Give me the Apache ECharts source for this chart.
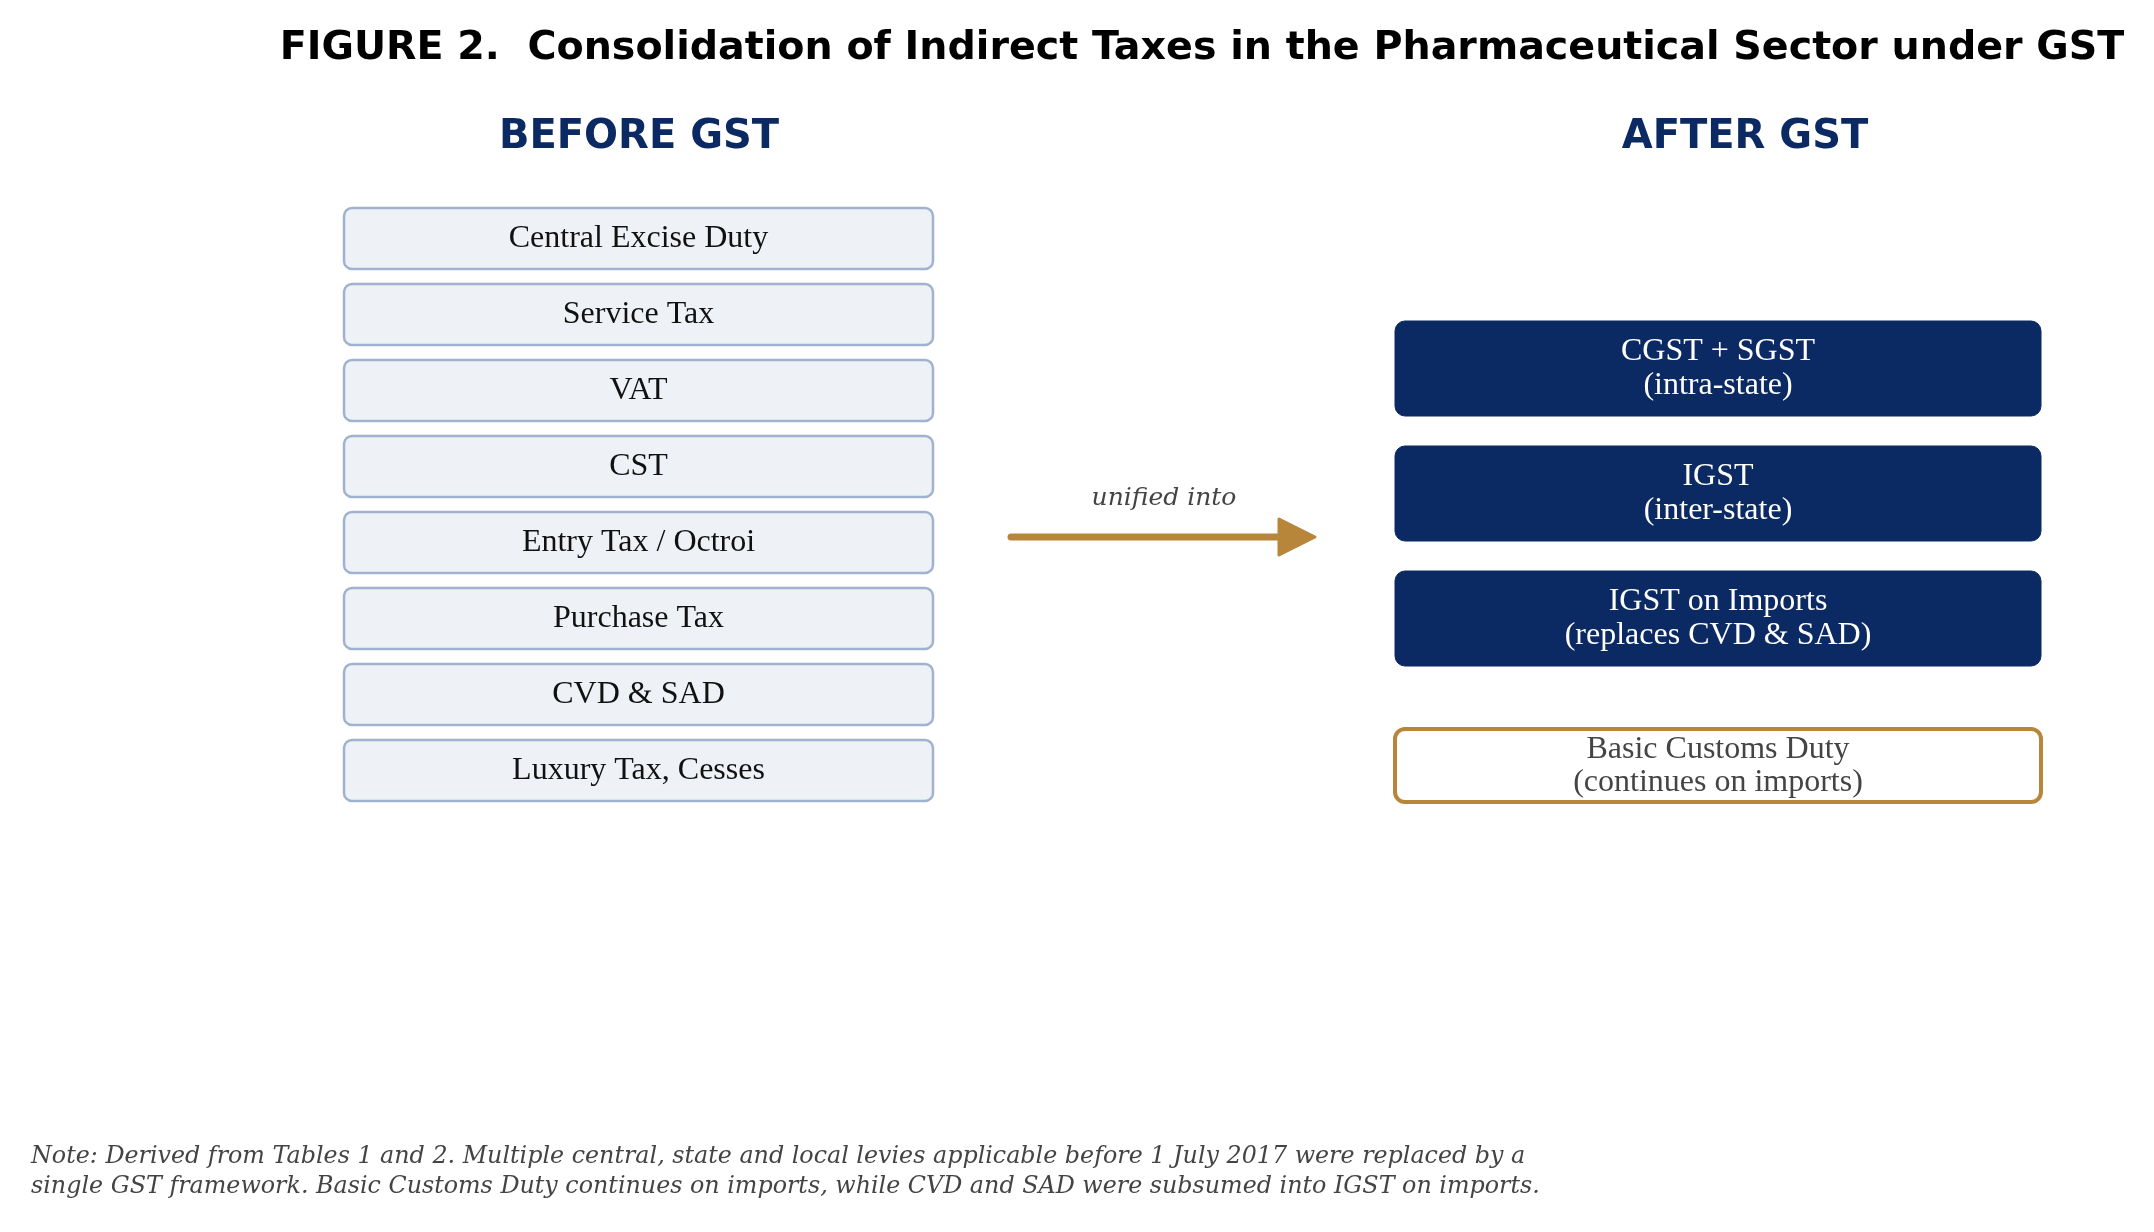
<!DOCTYPE html>
<html>
<head>
<meta charset="utf-8">
<title>Figure 2 - Consolidation of Indirect Taxes under GST</title>
<script src="https://cdn.jsdelivr.net/npm/echarts@6/dist/echarts.min.js"></script>
<style>
    html, body { margin: 0; padding: 0; background: #fff; }
    #chart { width: 2154px; height: 1232px; }
</style>
</head>
<body>
<div id="chart"></div>
<script>
// ---- 数据 ----
var titleText = 'FIGURE 2.  Consolidation of Indirect Taxes in the Pharmaceutical Sector under GST';
var columnHeads = ['BEFORE GST', 'AFTER GST'];
var taxesBefore = [
    'Central Excise Duty',
    'Service Tax',
    'VAT',
    'CST',
    'Entry Tax / Octroi',
    'Purchase Tax',
    'CVD & SAD',
    'Luxury Tax, Cesses'
];
var taxesAfter = [
    'CGST + SGST\n(intra-state)',
    'IGST\n(inter-state)',
    'IGST on Imports\n(replaces CVD & SAD)'
];
var retained = ['Basic Customs Duty\n(continues on imports)'];
var arrowLabel = 'unified into';
var noteLines = [
    'Note: Derived from Tables 1 and 2. Multiple central, state and local levies applicable before 1 July 2017 were replaced by a',
    'single GST framework. Basic Customs Duty continues on imports, while CVD and SAD were subsumed into IGST on imports.'
];

// ---- 版式 (坐标轴单位) ----
var NAVY = '#0b2a63';
var GOLD = '#b8863b';
var layout = {
    before: { x: 344, w: 589, top: 208, h: 61, pitch: 76 },
    after: { x: 1395, w: 646, top: 321, h: 95, pitch: 125 },
    retained: { gap: 33, h: 73 },
    arrow: { x0: 1011, x1: 1315, y: 537, head: 36, half: 18 }
};

var serif = '"Liberation Serif", "Times New Roman", serif';

function boxRect(api, x, y, w, h) {
    var p = api.coord([x, y]);
    var s = api.size([w, h]);
    return { x: p[0], y: p[1], width: s[0], height: s[1] };
}

var myChart = echarts.init(document.getElementById('chart'));

var option = {
    backgroundColor: '#ffffff',
    animation: false,
    grid: { left: 0, right: 0, top: 0, bottom: 0 },
    xAxis: { type: 'value', min: 0, max: 2154, show: false },
    yAxis: { type: 'value', min: 0, max: 1232, inverse: true, show: false },
    graphic: [
        {
            type: 'text', x: 1202, y: 49,
            style: { text: titleText, fontFamily: 'DejaVu Sans', fontWeight: 'bold', fontSize: 39.6,
                fill: '#000', align: 'center', verticalAlign: 'middle' }
        },
        {
            type: 'text', x: 639, y: 138,
            style: { text: columnHeads[0], fontFamily: 'DejaVu Sans', fontWeight: 'bold', fontSize: 40,
                fill: NAVY, align: 'center', verticalAlign: 'middle' }
        },
        {
            type: 'text', x: 1745, y: 138,
            style: { text: columnHeads[1], fontFamily: 'DejaVu Sans', fontWeight: 'bold', fontSize: 40,
                fill: NAVY, align: 'center', verticalAlign: 'middle' }
        },
        {
            type: 'text', x: 1164, y: 498,
            style: { text: arrowLabel, fontFamily: 'DejaVu Serif', fontStyle: 'italic', fontSize: 25,
                fill: '#444', align: 'center', verticalAlign: 'middle' }
        },
        {
            type: 'text', x: 31, y: 1172,
            style: { text: noteLines.join('\n'), fontFamily: 'DejaVu Serif', fontStyle: 'italic', fontSize: 23.8,
                lineHeight: 30, fill: '#444', align: 'left', verticalAlign: 'middle' }
        }
    ],
    series: [
        {
            // 改革前的税种
            type: 'custom',
            clip: false,
            data: taxesBefore.map(function (name, i) { return [i, 0]; }),
            renderItem: function (params, api) {
                var L = layout.before;
                var i = api.value(0);
                var r = boxRect(api, L.x, L.top + i * L.pitch, L.w, L.h);
                r.r = 8;
                return {
                    type: 'rect',
                    shape: r,
                    style: { fill: '#eef1f6', stroke: '#9fb3cf', lineWidth: 2.5 },
                    textContent: {
                        style: { text: taxesBefore[params.dataIndex], fontFamily: serif, fontSize: 32, fill: '#111' }
                    },
                    textConfig: { position: 'inside' }
                };
            }
        },
        {
            // GST 之后
            type: 'custom',
            clip: false,
            data: taxesAfter.map(function (name, i) { return [i, 0]; }),
            renderItem: function (params, api) {
                var L = layout.after;
                var i = api.value(0);
                var r = boxRect(api, L.x, L.top + i * L.pitch, L.w, L.h);
                r.r = 10;
                return {
                    type: 'rect',
                    shape: r,
                    style: { fill: NAVY, stroke: NAVY, lineWidth: 1 },
                    textContent: {
                        style: { text: taxesAfter[params.dataIndex], fontFamily: serif, fontSize: 32,
                            lineHeight: 34, fill: '#fff', align: 'center' }
                    },
                    textConfig: { position: 'inside' }
                };
            }
        },
        {
            // 继续保留的关税
            type: 'custom',
            clip: false,
            data: retained.map(function (name, i) { return [i, 0]; }),
            renderItem: function (params, api) {
                var L = layout.after;
                var top = L.top + taxesAfter.length * L.pitch + layout.retained.gap;
                var r = boxRect(api, L.x, top, L.w, layout.retained.h);
                r.r = 10;
                return {
                    type: 'rect',
                    shape: r,
                    style: { fill: '#fff', stroke: GOLD, lineWidth: 4 },
                    textContent: {
                        style: { text: retained[params.dataIndex], fontFamily: serif, fontSize: 32,
                            lineHeight: 33, fill: '#444', align: 'center' }
                    },
                    textConfig: { position: 'inside', offset: [0, 1] }
                };
            }
        },
        {
            // 箭头
            type: 'custom',
            clip: false,
            data: [[0, 0]],
            renderItem: function (params, api) {
                var A = layout.arrow;
                var p0 = api.coord([A.x0, A.y]);
                var pb = api.coord([A.x1 - A.head, A.y]);
                var p1 = api.coord([A.x1, A.y]);
                var half = api.size([0, A.half])[1];
                return {
                    type: 'group',
                    children: [
                        {
                            type: 'line',
                            shape: { x1: p0[0], y1: p0[1], x2: pb[0] + 6, y2: pb[1] },
                            style: { stroke: GOLD, lineWidth: 7, lineCap: 'round' }
                        },
                        {
                            type: 'polygon',
                            shape: { points: [[pb[0], pb[1] - half], [p1[0], p1[1]], [pb[0], pb[1] + half]] },
                            style: { fill: GOLD, stroke: GOLD, lineWidth: 3, lineJoin: 'round' }
                        }
                    ]
                };
            }
        }
    ]
};

myChart.setOption(option);

window.addEventListener('resize', function () {
    myChart.resize();
});
</script>
</body>
</html>
